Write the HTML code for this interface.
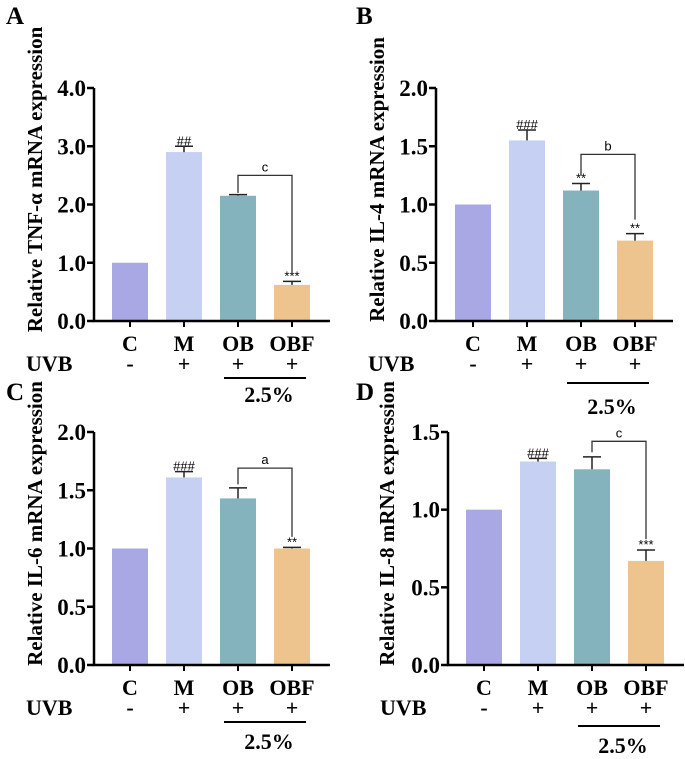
<!DOCTYPE html>
<html><head><meta charset="utf-8">
<style>
body{margin:0;background:#fff;}
svg{display:block;font-family:"Liberation Serif",serif;}
.tk{font-weight:bold;font-size:23px;}
.cat{font-weight:bold;font-size:22px;}
.ttl{font-weight:bold;font-size:21px;}
.sig{font-family:"Liberation Sans",sans-serif;font-size:13px;}
</style></head>
<body>
<svg id="fig" width="685" height="759" viewBox="0 0 685 759" xmlns="http://www.w3.org/2000/svg"></svg>
<script>
const categories=["C","M","OB","OBF"];
const uvbLabels=["-","+","+","+"];
const colors=["#a9a8e4","#c5d0f2","#84b3bd","#eec48e"];
const valuesA=[1.0,2.9,2.15,0.62];
const errA=[0,0.1,0.02,0.06];
const marksA=["","##","","***"];
const ticksA=[0,1,2,3,4];
const valuesB=[1.0,1.55,1.12,0.69];
const errB=[0,0.09,0.06,0.06];
const marksB=["","###","**","**"];
const ticksB=[0,0.5,1,1.5,2];
const valuesC=[1.0,1.61,1.43,1.0];
const errC=[0,0.05,0.09,0.01];
const marksC=["","###","","**"];
const ticksC=[0,0.5,1,1.5,2];
const valuesD=[1.0,1.31,1.26,0.67];
const errD=[0,0.02,0.08,0.07];
const marksD=["","###","","***"];
const ticksD=[0,0.5,1,1.5];
const NS="http://www.w3.org/2000/svg";
const svg=document.getElementById('fig');
function mk(tag,attrs,parent,txt){const e=document.createElementNS(NS,tag);for(const k in attrs)e.setAttribute(k,attrs[k]);if(txt!==undefined)e.textContent=txt;(parent||svg).appendChild(e);return e;}
const panels=[
 {letter:"A",lx:6,ly:24,ax:94,top:88,bot:321,ymax:4,vals:valuesA,errs:errA,marks:marksA,ticks:ticksA,dec:1,title:"Relative TNF-α mRNA expression",tx:42,bx:112,br:{lab:"c",y:2.5,l1:2.2,l2:0.8},pctLineY:378,pctY:402},
 {letter:"B",lx:356,ly:24,ax:436,top:88,bot:321,ymax:2,vals:valuesB,errs:errB,marks:marksB,ticks:ticksB,dec:1,title:"Relative IL-4 mRNA expression",tx:384,bx:455,br:{lab:"b",y:1.43,l1:1.25,l2:0.87},pctLineY:383,pctY:414},
 {letter:"C",lx:6,ly:400,ax:94,top:432,bot:665,ymax:2,vals:valuesC,errs:errC,marks:marksC,ticks:ticksC,dec:1,title:"Relative IL-6 mRNA expression",tx:42,bx:112,br:{lab:"a",y:1.69,l1:1.55,l2:1.1},pctLineY:722,pctY:749},
 {letter:"D",lx:356,ly:400,ax:448,top:432,bot:665,ymax:1.5,vals:valuesD,errs:errD,marks:marksD,ticks:ticksD,dec:1,title:"Relative IL-8 mRNA expression",tx:394,bx:466,br:{lab:"c",y:1.44,l1:1.37,l2:0.81},pctLineY:726,pctY:753}
];
panels.forEach((p,pi)=>{
 const g=mk('g',{});
 
 
 const y=v=>p.bot-(v/p.ymax)*(p.bot-p.top);
 const step=54,bw=36;
 const bx=i=>p.bx+i*step;
 const lt=mk('text',{x:p.lx,y:p.ly,'font-size':25,'font-weight':'bold'},g,p.letter);
 
 const tt=mk('text',{class:'ttl',x:0,y:0,'text-anchor':'middle',transform:`translate(${p.tx},${(p.top+p.bot)/2-25}) rotate(-90)`},g,p.title);
 
 p.vals.forEach((v,i)=>{
  const r=mk('rect',{x:bx(i),y:y(v),width:bw,height:p.bot-y(v),fill:colors[i]},g);
  
  const cx=bx(i)+bw/2;
  if(p.errs[i]>0){
   const e=mk('path',{d:`M${cx},${y(v)} V${y(v+p.errs[i])} M${cx-9},${y(v+p.errs[i])} H${cx+9}`,stroke:'#222','stroke-width':1.5,fill:'none'},g);
   
  }
  if(p.marks[i]){
   const m=mk('text',{class:'sig',x:cx,y:y(v+p.errs[i])-1,'text-anchor':'middle'},g,p.marks[i]);
   
  }
  const c=mk('text',{class:'cat',x:cx,y:p.bot+30,'text-anchor':'middle'},g,categories[i]);
  
  const u=mk('text',{class:'cat',x:cx,y:p.bot+50,'text-anchor':'middle'},g,uvbLabels[i]);
  
  mk('line',{x1:cx,x2:cx,y1:p.bot,y2:p.bot+6,stroke:'#000','stroke-width':2},g);
 });
 const ax=mk('path',{d:`M${p.ax},${p.top} V${p.bot} H${bx(3)+bw+20}`,stroke:'#000','stroke-width':2.5,fill:'none'},g);
 
 p.ticks.forEach(t=>{
  mk('line',{x1:p.ax-7,x2:p.ax,y1:y(t),y2:y(t),stroke:'#000','stroke-width':2.5},g);
  const tl=mk('text',{class:'tk',x:p.ax-8,y:y(t)+8,'text-anchor':'end'},g,t.toFixed(p.dec));
  
 });
 const uv=mk('text',{class:'cat',x:p.ax-68,y:p.bot+50},g,"UVB");
 
 const c2=bx(2)+bw/2,c3=bx(3)+bw/2;
 const b=mk('path',{d:`M${c2},${y(p.br.l1)} V${y(p.br.y)} H${c3} V${y(p.br.l2)}`,stroke:'#333','stroke-width':1.3,fill:'none'},g);
 
 const bl=mk('text',{class:'sig','font-size':17,x:(c2+c3)/2,y:y(p.br.y)-4,'text-anchor':'middle'},g,p.br.lab);
 
 const gl=mk('line',{x1:bx(2)+4,x2:bx(3)+bw-4,y1:p.pctLineY,y2:p.pctLineY,stroke:'#000','stroke-width':2},g);
 
 const pt=mk('text',{class:'cat',x:(c2+c3)/2+4,y:p.pctY,'text-anchor':'middle'},g,"2.5%");
 
});
</script>
</body></html>
